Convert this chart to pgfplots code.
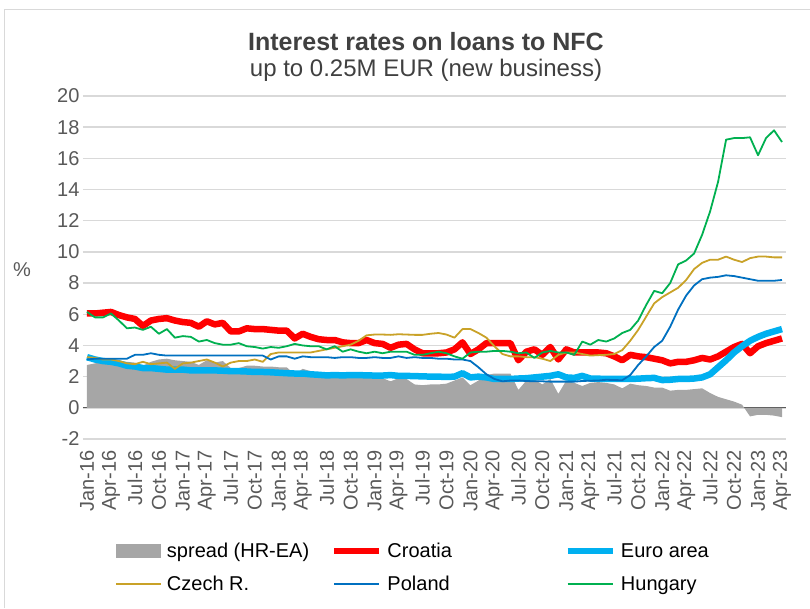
\documentclass[border=0pt]{standalone}
\usepackage{fontspec}
\setmainfont{Liberation Sans}
\usepackage{pgfplots}
\pgfplotsset{compat=1.18}
\usepackage{pgfplotstable}
\definecolor{cHR}{HTML}{FF0000}
\definecolor{cEA}{HTML}{00B0F0}
\definecolor{cCZ}{HTML}{C9A228}
\definecolor{cPL}{HTML}{0070C0}
\definecolor{cHU}{HTML}{00B050}
\definecolor{cSP}{HTML}{A6A6A6}
\definecolor{cGrid}{HTML}{D9D9D9}
\definecolor{cTick}{HTML}{595959}
\definecolor{cTitle}{HTML}{404040}

\pgfplotstableread{
i sp hr ea cz pl hu
0 2.75 6.05 3.25 3.25 3.10 6.15
1 2.85 6.05 3.10 3.20 3.15 5.80
2 2.95 6.10 3.00 3.10 3.15 5.80
3 3.05 6.15 2.95 3.10 3.15 6.05
4 3.00 5.95 2.85 3.00 3.15 5.60
5 2.95 5.80 2.70 2.85 3.15 5.10
6 2.90 5.70 2.65 2.80 3.40 5.15
7 2.70 5.25 2.55 2.95 3.40 5.00
8 2.95 5.60 2.55 2.80 3.50 5.20
9 3.10 5.70 2.50 2.85 3.40 4.75
10 3.15 5.75 2.45 2.90 3.35 5.05
11 3.05 5.60 2.45 2.50 3.35 4.50
12 3.00 5.50 2.45 2.85 3.35 4.60
13 2.95 5.45 2.40 2.90 3.35 4.55
14 2.75 5.20 2.40 3.00 3.35 4.25
15 3.05 5.55 2.40 3.10 3.35 4.35
16 2.90 5.35 2.40 2.90 3.35 4.15
17 3.00 5.45 2.38 2.65 3.35 4.05
18 2.55 4.90 2.35 2.90 3.35 4.05
19 2.55 4.90 2.35 3.00 3.35 4.15
20 2.70 5.10 2.33 3.00 3.35 3.95
21 2.70 5.05 2.30 3.10 3.35 3.90
22 2.65 5.05 2.30 2.95 3.35 3.80
23 2.65 5.00 2.28 3.45 3.10 3.90
24 2.60 4.95 2.25 3.55 3.30 3.85
25 2.60 4.95 2.22 3.55 3.30 3.95
26 2.15 4.45 2.20 3.55 3.15 4.10
27 2.50 4.75 2.20 3.55 3.30 4.00
28 2.35 4.55 2.15 3.55 3.25 3.95
29 2.20 4.40 2.12 3.65 3.25 3.95
30 2.20 4.35 2.08 3.75 3.25 3.75
31 2.20 4.35 2.10 3.85 3.20 3.95
32 2.05 4.20 2.08 3.95 3.25 3.60
33 1.95 4.15 2.10 4.05 3.25 3.75
34 1.95 4.15 2.10 4.30 3.20 3.60
35 2.10 4.35 2.08 4.65 3.20 3.50
36 1.90 4.15 2.07 4.70 3.25 3.60
37 1.90 4.10 2.07 4.70 3.20 3.50
38 1.70 3.85 2.10 4.68 3.20 3.60
39 1.90 4.05 2.05 4.72 3.30 3.60
40 1.85 4.10 2.05 4.70 3.20 3.60
41 1.50 3.75 2.03 4.68 3.25 3.40
42 1.45 3.50 2.02 4.68 3.20 3.40
43 1.50 3.50 2.00 4.75 3.20 3.50
44 1.50 3.50 2.00 4.80 3.15 3.60
45 1.55 3.55 1.98 4.70 3.15 3.50
46 1.75 3.75 2.00 4.50 3.10 3.30
47 1.95 4.20 2.22 5.05 3.10 3.15
48 1.45 3.45 1.95 5.05 3.00 3.55
49 1.75 3.75 2.00 4.80 2.60 3.60
50 2.10 4.15 1.95 4.50 2.15 3.60
51 2.20 4.15 1.85 3.95 1.85 3.65
52 2.20 4.15 1.85 3.45 1.70 3.65
53 2.20 4.15 1.85 3.30 1.75 3.60
54 1.15 3.05 1.88 3.30 1.75 3.50
55 1.75 3.60 1.90 3.25 1.72 3.55
56 1.80 3.75 1.95 3.25 1.70 3.20
57 1.50 3.40 2.00 3.15 1.70 3.55
58 1.85 3.90 2.05 3.00 1.68 3.65
59 0.90 3.10 2.15 3.40 1.68 3.55
60 1.75 3.75 1.95 3.55 1.68 3.55
61 1.60 3.55 1.92 3.55 1.68 3.40
62 1.40 3.55 2.05 3.45 1.72 4.25
63 1.60 3.55 1.88 3.35 1.74 4.05
64 1.65 3.55 1.87 3.38 1.75 4.35
65 1.60 3.50 1.85 3.40 1.80 4.25
66 1.50 3.30 1.85 3.45 1.78 4.45
67 1.25 3.05 1.85 3.70 1.77 4.80
68 1.55 3.40 1.85 4.30 2.10 5.00
69 1.45 3.30 1.87 5.00 2.75 5.60
70 1.40 3.25 1.90 5.85 3.30 6.60
71 1.30 3.15 1.92 6.70 3.90 7.50
72 1.30 3.05 1.78 7.10 4.30 7.35
73 1.10 2.85 1.80 7.40 5.20 8.00
74 1.15 2.95 1.85 7.70 6.30 9.20
75 1.15 2.95 1.85 8.20 7.20 9.45
76 1.20 3.05 1.88 8.90 7.85 9.90
77 1.25 3.20 1.95 9.30 8.25 11.10
78 0.95 3.10 2.15 9.50 8.35 12.60
79 0.70 3.30 2.60 9.50 8.40 14.50
80 0.55 3.60 3.05 9.70 8.50 17.20
81 0.40 3.90 3.55 9.50 8.45 17.30
82 0.20 4.10 3.95 9.35 8.35 17.30
83 -0.55 3.50 4.30 9.60 8.25 17.35
84 -0.45 3.95 4.55 9.70 8.15 16.20
85 -0.45 4.15 4.75 9.70 8.15 17.30
86 -0.50 4.30 4.90 9.65 8.15 17.80
87 -0.60 4.45 5.05 9.65 8.20 17.05
}\data

\begin{document}
\begin{tikzpicture}[x=1pt,y=1pt]
\begin{axis}[
  scale only axis, width=703pt, height=343pt,
  xmin=-0.5, xmax=87.5, ymin=-2, ymax=20,
  ytick={-2,0,...,20},
  xtick={0,3,...,87},
  xticklabels={Jan-16,Apr-16,Jul-16,Oct-16,Jan-17,Apr-17,Jul-17,Oct-17,Jan-18,Apr-18,Jul-18,Oct-18,Jan-19,Apr-19,Jul-19,Oct-19,Jan-20,Apr-20,Jul-20,Oct-20,Jan-21,Apr-21,Jul-21,Oct-21,Jan-22,Apr-22,Jul-22,Oct-22,Jan-23,Apr-23},
  axis line style={draw=none},
  major tick length=0pt,
  ymajorgrids, grid style={cGrid, line width=1.5pt},
  ticklabel style={font=\fontsize{20}{24}\selectfont, text=cTick},
  /pgf/number format/assume math mode=true,
  xticklabel style={rotate=90, anchor=east},
  xticklabel shift=8pt,
  extra y ticks={0}, extra y tick labels={},
  extra y tick style={grid style={cTick, line width=1.2pt}},
  line join=round,
  legend columns=3,
  legend cell align=left,
  legend style={at={(axis description cs:0.0455,-0.297)}, anchor=north west,
    draw=none, fill=none, inner sep=0pt, column sep=3pt, row sep=13pt,
    font=\fontsize{20}{24}\selectfont},
  legend image code/.code={\draw[#1] (0pt,0pt) -- (45pt,0pt);},
]
\addplot[fill=cSP, draw=none, legend image code/.code={\fill[cSP] (0pt,-7pt) rectangle (45pt,7pt);}] table[x=i,y=sp] {\data} \closedcycle;
\addlegendentry{\makebox[159pt][l]{spread (HR-EA)}}
\addplot[cHR, line width=6.5pt] table[x=i,y=hr] {\data};
\addlegendentry{\makebox[172pt][l]{Croatia}}
\addplot[cEA, line width=6.5pt] table[x=i,y=ea] {\data};
\addlegendentry{Euro area}
\addplot[cCZ, line width=1.8pt] table[x=i,y=cz] {\data};
\addlegendentry{\makebox[159pt][l]{Czech R.}}
\addplot[cPL, line width=1.8pt] table[x=i,y=pl] {\data};
\addlegendentry{\makebox[172pt][l]{Poland}}
\addplot[cHU, line width=1.8pt] table[x=i,y=hu] {\data};
\addlegendentry{Hungary}
\end{axis}
\node[font=\bfseries\fontsize{25}{30}\selectfont, text=cTitle] at (343,397) {Interest rates on loans to NFC};
\node[font=\fontsize{24}{28}\selectfont, text=cTitle] at (343,369) {up to 0.25M EUR (new business)};
\node[font=\fontsize{20}{24}\selectfont, text=cTick] at (-61,169) {\%};
\draw[cGrid, line width=1pt] (-78,-169) -- (-78,429) -- (727,429);
\pgfresetboundingbox
\useasboundingbox (-83,-169) rectangle (727,439);
\end{tikzpicture}
\end{document}
